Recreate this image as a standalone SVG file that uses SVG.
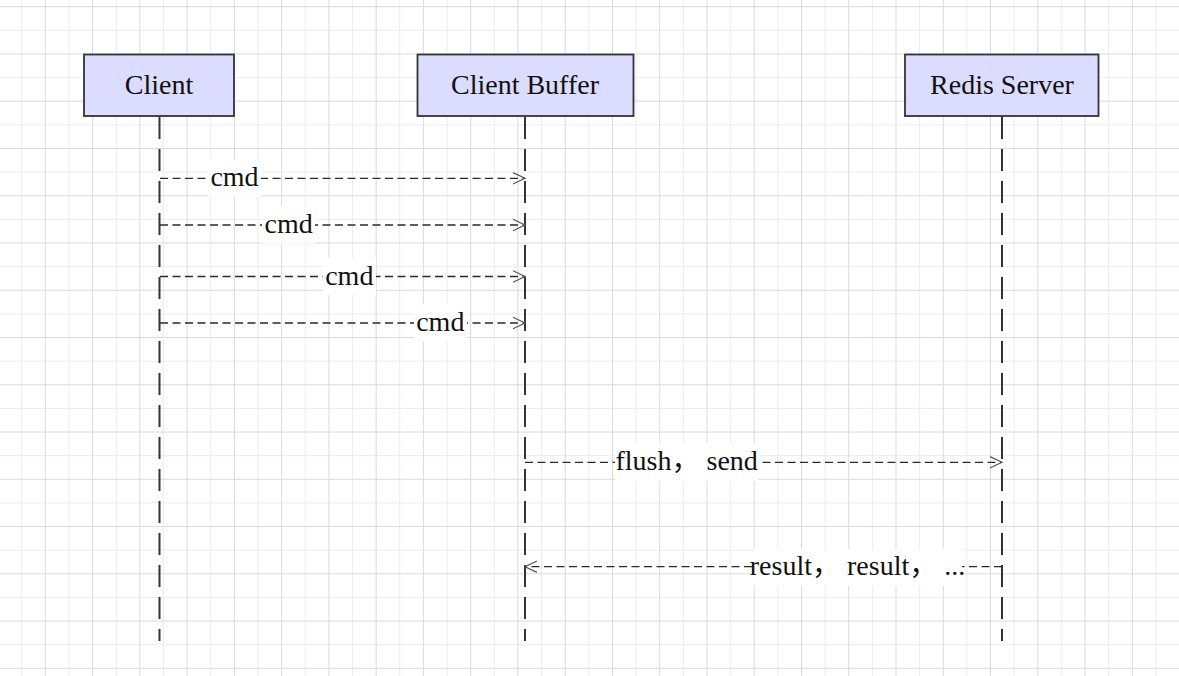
<svg xmlns="http://www.w3.org/2000/svg" width="1179" height="676" viewBox="0 0 1179 676">
  <style>
    .box { fill: #dbdcff; stroke: #333333; stroke-width: 1.8; }
    .life { stroke: #333333; stroke-width: 2; stroke-dasharray: 22 10; fill: none; }
    .title { font-family: 'Liberation Serif', 'Times New Roman', 'DejaVu Serif', serif; font-size: 28px; fill: #111111; text-anchor: middle; }
    .msg { stroke: #2a2a2a; stroke-width: 1.3; stroke-dasharray: 8 4.5; fill: none; }
    .lblbg { fill: #ffffff; }
    .lbl { font-family: 'Liberation Serif', 'Times New Roman', 'DejaVu Serif', serif; font-size: 28px; fill: #111111; text-anchor: middle; }
    .cjk { font-family: 'Noto Sans CJK SC', 'Noto Sans CJK JP', sans-serif; }
  </style>
  <defs>
    <pattern id="grid" patternUnits="userSpaceOnUse" x="21.2" y="6.2" width="47.26" height="47.26">
      <rect x="0" y="0" width="1" height="47.26" fill="#ececec"/>
      <rect x="0" y="23.63" width="47.26" height="1" fill="#ececec"/>
      <rect x="23.63" y="0" width="1" height="47.26" fill="#dadada"/>
      <rect x="0" y="0" width="47.26" height="1" fill="#dadada"/>
    </pattern>
    <marker id="open" markerUnits="userSpaceOnUse" markerWidth="16" markerHeight="16" refX="13" refY="6.5" orient="auto">
      <path d="M1,0.8 L13,6.5 L1,12.2" fill="none" stroke="#555555" stroke-width="1.2" stroke-dasharray="none"/>
    </marker>
  </defs>
  <rect x="0" y="0" width="1179" height="676" fill="#ffffff"/>
  <rect x="0" y="0" width="1179" height="676" fill="url(#grid)"/>

  <g id="node-client">
    <line class="life" x1="159.5" y1="117" x2="159.5" y2="641"/>
    <rect class="box" x="84" y="54.5" width="150" height="61.5"/>
    <text class="title" x="159" y="94">Client</text>
  </g>
  <g id="node-buffer">
    <line class="life" x1="525" y1="117" x2="525" y2="641"/>
    <rect class="box" x="417.5" y="54.5" width="216" height="61.5"/>
    <text class="title" x="525" y="94">Client Buffer</text>
  </g>
  <g id="node-redis">
    <line class="life" x1="1002" y1="117" x2="1002" y2="641"/>
    <rect class="box" x="905" y="54.5" width="193.5" height="61.5"/>
    <text class="title" x="1002" y="94">Redis Server</text>
  </g>

  <g id="connectors">
    <g id="edge-cmd1">
      <line class="msg" x1="160" y1="178.3" x2="525" y2="178.3" marker-end="url(#open)"/>
      <rect class="lblbg" x="208" y="159.5" width="53" height="37"/>
      <text class="lbl" x="234.5" y="186.3">cmd</text>
    </g>
    <g id="edge-cmd2">
      <line class="msg" x1="160" y1="225" x2="525" y2="225" marker-end="url(#open)"/>
      <rect class="lblbg" x="262" y="206.5" width="53" height="37"/>
      <text class="lbl" x="288.7" y="233">cmd</text>
    </g>
    <g id="edge-cmd3">
      <line class="msg" x1="160" y1="276.5" x2="525" y2="276.5" marker-end="url(#open)"/>
      <rect class="lblbg" x="323" y="258" width="53" height="37"/>
      <text class="lbl" x="349.3" y="284.5">cmd</text>
    </g>
    <g id="edge-cmd4">
      <line class="msg" x1="160" y1="323" x2="525" y2="323" marker-end="url(#open)"/>
      <rect class="lblbg" x="414" y="304.5" width="53" height="37"/>
      <text class="lbl" x="440.3" y="331">cmd</text>
    </g>
    <g id="edge-flush">
      <line class="msg" x1="525" y1="462.3" x2="1002" y2="462.3" marker-end="url(#open)"/>
      <rect class="lblbg" x="615" y="443" width="143" height="38"/>
      <text class="lbl" x="686.7" y="470.3">flush<tspan class="cjk">，</tspan> send</text>
    </g>
    <g id="edge-result">
      <line class="msg" x1="1002" y1="566.7" x2="525" y2="566.7" marker-end="url(#open)"/>
      <rect class="lblbg" x="753" y="549" width="209" height="37"/>
      <text class="lbl" x="857.5" y="574.7">result<tspan class="cjk">，</tspan> result<tspan class="cjk">，</tspan> ...</text>
    </g>
  </g>
</svg>
